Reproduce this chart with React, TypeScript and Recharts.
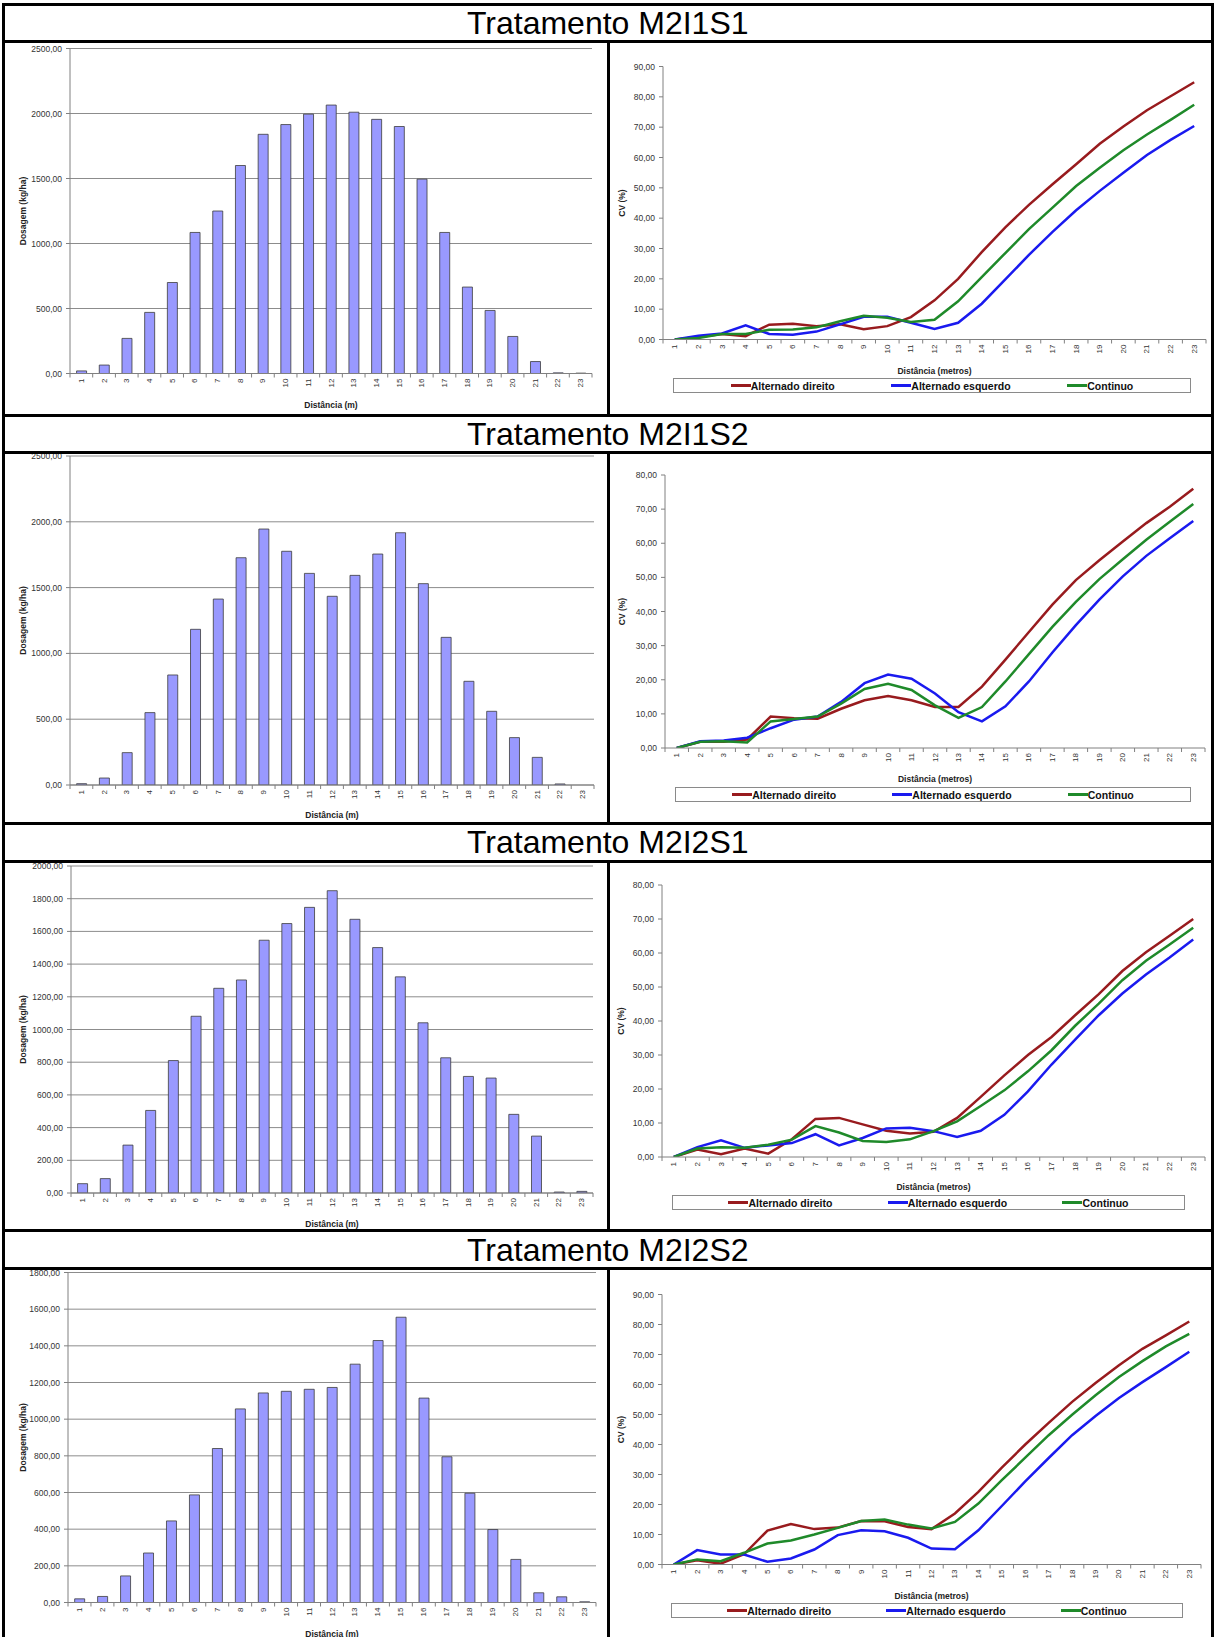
import React from 'react';
import { BarChart, Bar, LineChart, Line, XAxis, YAxis, CartesianGrid, Legend } from 'recharts';

// ---------------- data ----------------
const distances = ['1', '2', '3', '4', '5', '6', '7', '8', '9', '10', '11', '12', '13', '14', '15', '16', '17', '18', '19', '20', '21', '22', '23'];

const treatmentTitles = ['Tratamento M2I1S1', 'Tratamento M2I1S2', 'Tratamento M2I2S1', 'Tratamento M2I2S2'];

const seriesNames = ['Alternado direito', 'Alternado esquerdo', 'Continuo'];
const seriesColors = ['#981b1e', '#1a1aef', '#1f8a2a'];

// Dosagem (kg/ha)
const doseM2I1S1 = [20, 65, 270, 470, 700, 1085, 1250, 1600, 1840, 1915, 1995, 2065, 2010, 1955, 1900, 1495, 1085, 665, 485, 285, 92, 5, 3];
const doseM2I1S2 = [10, 53, 246, 550, 836, 1183, 1413, 1727, 1945, 1776, 1608, 1434, 1593, 1755, 1917, 1530, 1122, 788, 560, 360, 210, 8, 0];
const doseM2I2S1 = [57, 88, 293, 505, 810, 1081, 1252, 1303, 1546, 1648, 1747, 1849, 1674, 1501, 1322, 1041, 827, 713, 703, 481, 348, 6, 10];
const doseM2I2S2 = [20, 33, 145, 270, 445, 587, 840, 1056, 1143, 1152, 1163, 1173, 1300, 1429, 1556, 1115, 795, 596, 398, 235, 53, 31, 4];

// CV (%)
const cvDirM2I1S1 = [0, 0.8, 1.8, 1.1, 4.9, 5.2, 4.4, 5.0, 3.4, 4.4, 7.4, 12.9, 20.0, 28.8, 37.0, 44.4, 51.2, 57.8, 64.5, 70.2, 75.6, 80.2, 84.8];
const cvEsqM2I1S1 = [0, 1.2, 2.0, 4.7, 1.8, 1.6, 2.6, 5.0, 7.5, 7.5, 5.5, 3.5, 5.5, 11.8, 19.8, 27.9, 35.5, 42.6, 49.0, 55.0, 60.8, 65.8, 70.4];
const cvConM2I1S1 = [0, 0.5, 1.8, 1.8, 3.2, 3.3, 4.0, 6.0, 7.8, 7.2, 5.8, 6.5, 12.6, 20.6, 28.5, 36.4, 43.5, 50.6, 56.6, 62.4, 67.6, 72.4, 77.4];

const cvDirM2I1S2 = [0, 1.8, 1.8, 2.5, 9.2, 8.7, 8.6, 11.5, 14.0, 15.2, 14.0, 12.0, 12.0, 18.0, 25.9, 34.0, 42.0, 49.2, 55.0, 60.5, 65.9, 70.7, 76.0];
const cvEsqM2I1S2 = [0, 2.0, 2.2, 3.0, 5.8, 8.3, 9.2, 13.5, 19.0, 21.5, 20.3, 16.0, 10.5, 7.8, 12.2, 19.5, 28.0, 36.0, 43.5, 50.3, 56.3, 61.5, 66.5];
const cvConM2I1S2 = [0, 1.8, 2.0, 1.6, 7.8, 8.5, 9.2, 13.0, 17.3, 18.8, 17.0, 12.5, 8.8, 12.0, 19.5, 27.5, 35.5, 42.8, 49.5, 55.3, 61.0, 66.3, 71.5];

const cvDirM2I2S1 = [0, 2.2, 0.8, 2.5, 1.0, 5.2, 11.2, 11.5, 9.6, 7.7, 6.9, 7.4, 11.5, 17.7, 24.0, 30.0, 35.3, 41.7, 47.9, 54.7, 60.2, 65.1, 70.0];
const cvEsqM2I2S1 = [0, 2.9, 4.9, 2.7, 3.4, 4.1, 6.7, 3.4, 5.6, 8.4, 8.6, 7.6, 5.9, 7.7, 12.4, 19.3, 27.2, 34.5, 41.7, 48.1, 53.7, 58.7, 64.0];
const cvConM2I2S1 = [0, 2.5, 2.9, 2.7, 3.6, 5.1, 9.1, 7.2, 4.7, 4.4, 5.2, 7.6, 10.5, 15.0, 19.6, 25.2, 31.4, 38.6, 45.1, 52.0, 57.7, 62.5, 67.4];

const cvDirM2I2S2 = [0, 1.4, 0.3, 3.4, 11.3, 13.5, 11.8, 12.3, 14.5, 14.4, 12.5, 11.8, 17.0, 24.2, 32.3, 40.0, 47.2, 54.2, 60.5, 66.4, 71.9, 76.4, 81.0];
const cvEsqM2I2S2 = [0, 4.8, 3.3, 3.3, 0.9, 2.0, 5.0, 9.8, 11.4, 11.1, 8.9, 5.3, 5.1, 11.4, 19.5, 27.7, 35.5, 43.1, 49.5, 55.5, 60.8, 65.8, 70.9];
const cvConM2I2S2 = [0, 1.7, 1.1, 3.9, 7.0, 8.0, 10.0, 12.2, 14.5, 15.0, 13.3, 12.0, 14.2, 20.3, 28.1, 35.6, 43.1, 49.9, 56.4, 62.5, 67.8, 72.7, 76.9];

// tick values
const ticksDose2500 = [0, 500, 1000, 1500, 2000, 2500];
const ticksDose2000 = [0, 200, 400, 600, 800, 1000, 1200, 1400, 1600, 1800, 2000];
const ticksDose1800 = [0, 200, 400, 600, 800, 1000, 1200, 1400, 1600, 1800];
const ticksCv90 = [0, 10, 20, 30, 40, 50, 60, 70, 80, 90];
const ticksCv80 = [0, 10, 20, 30, 40, 50, 60, 70, 80];

// ---------------- layout / style ----------------
const FONT = '"Liberation Sans", Arial, Helvetica, sans-serif';
const PAGE_W = 1214;
const PAGE_H = 1637;
const DIVIDER_X = 608;
const BORDER_L = 3.5;
const BORDER_R = 1212;
const AXIS = '#808080';
const GRID = '#8c8c8c';
const TICK_TEXT = '#333333';

const rows = [
  {
    title: treatmentTitles[0], titleTop: 4.5, titleBottom: 41.5, bottom: 415,
    dose: doseM2I1S1, doseTicks: ticksDose2500,
    bar: { x1: 70, y1: 48, x2: 592, y2: 373, xTitleY: 404, yTitleX: 23 },
    dir: cvDirM2I1S1, esq: cvEsqM2I1S1, con: cvConM2I1S1, cvTicks: ticksCv90,
    line: { x1: 663, y1: 66, x2: 1206, y2: 339, xTitleY: 370, yTitleX: 622, lg: { x1: 673, y1: 378, x2: 1191, y2: 393 } },
  },
  {
    title: treatmentTitles[1], titleTop: 415, titleBottom: 452, bottom: 823,
    dose: doseM2I1S2, doseTicks: ticksDose2500,
    bar: { x1: 70, y1: 456, x2: 594, y2: 785, xTitleY: 815, yTitleX: 23 },
    dir: cvDirM2I1S2, esq: cvEsqM2I1S2, con: cvConM2I1S2, cvTicks: ticksCv80,
    line: { x1: 665, y1: 475, x2: 1205, y2: 748, xTitleY: 779, yTitleX: 622, lg: { x1: 675, y1: 787, x2: 1191, y2: 802 } },
  },
  {
    title: treatmentTitles[2], titleTop: 823, titleBottom: 861, bottom: 1230.5,
    dose: doseM2I2S1, doseTicks: ticksDose2000,
    bar: { x1: 71, y1: 866, x2: 593, y2: 1193, xTitleY: 1224, yTitleX: 23 },
    dir: cvDirM2I2S1, esq: cvEsqM2I2S1, con: cvConM2I2S1, cvTicks: ticksCv80,
    line: { x1: 662, y1: 885, x2: 1205, y2: 1157, xTitleY: 1187, yTitleX: 621, lg: { x1: 672, y1: 1195, x2: 1185, y2: 1210 } },
  },
  {
    title: treatmentTitles[3], titleTop: 1230.5, titleBottom: 1268.5, bottom: PAGE_H,
    dose: doseM2I2S2, doseTicks: ticksDose1800,
    bar: { x1: 68, y1: 1272, x2: 596, y2: 1602, xTitleY: 1633, yTitleX: 23 },
    dir: cvDirM2I2S2, esq: cvEsqM2I2S2, con: cvConM2I2S2, cvTicks: ticksCv90,
    line: { x1: 662, y1: 1294, x2: 1201, y2: 1564, xTitleY: 1595, yTitleX: 621, lg: { x1: 671, y1: 1603, x2: 1183, y2: 1618 } },
  },
];

const fmt = (v: number) => v.toFixed(2).replace('.', ',');

// Category tick: Excel-like tick marks between categories + rotated label
function CategoryTick(props: any) {
  const { x, y, payload, band, lastValue } = props;
  const ly = y + 5;
  const left = x - band / 2;
  const right = x + band / 2;
  return (
    <g>
      <line x1={left} x2={left} y1={y} y2={y + 4} stroke={AXIS} strokeWidth={1} />
      {payload.value === lastValue ? <line x1={right} x2={right} y1={y} y2={y + 4} stroke={AXIS} strokeWidth={1} /> : null}
      <text
        x={x}
        y={ly}
        transform={`rotate(-90 ${x} ${ly})`}
        textAnchor="end"
        dominantBaseline="central"
        fontSize={8}
        fill={TICK_TEXT}
      >
        {payload.value}
      </text>
    </g>
  );
}

function DoseChart({ row }: { row: any }) {
  const top = row.titleBottom;
  const H = row.bottom - top;
  const W = DIVIDER_X;
  const p = row.bar;
  const ticks: number[] = row.doseTicks;
  const max = ticks[ticks.length - 1];
  const data = distances.map((d, i) => ({ d, v: row.dose[i] }));
  const marginLeft = 6;
  const yw = p.x1 - marginLeft;
  const xh = H - (p.y2 - top);
  const band = (p.x2 - p.x1) / distances.length;
  const cy = (p.y1 + p.y2) / 2 - top;
  return (
    <div style={{ position: 'absolute', left: 0, top, width: W, height: H }}>
      <BarChart
        width={W}
        height={H}
        data={data}
        barCategoryGap="29%"
        margin={{ top: p.y1 - top, right: W - p.x2, bottom: 0, left: marginLeft }}
      >
        <CartesianGrid vertical={false} stroke={GRID} strokeWidth={1} />
        <XAxis
          dataKey="d"
          height={xh}
          interval={0}
          axisLine={{ stroke: AXIS }}
          tickLine={false}
          tickSize={0}
          tickMargin={0}
          tick={(tp: any) => <CategoryTick {...tp} band={band} lastValue={distances[distances.length - 1]} />}
          label={() => (
            <text x={(p.x1 + p.x2) / 2} y={p.xTitleY - top} textAnchor="middle" dominantBaseline="central" fontSize={8.5} fontWeight="bold" fill="#222">
              Distância (m)
            </text>
          )}
        />
        <YAxis
          width={yw}
          type="number"
          domain={[0, max]}
          ticks={ticks}
          interval={0}
          allowDataOverflow
          axisLine={{ stroke: AXIS }}
          tickLine={{ stroke: AXIS }}
          tickSize={4}
          tickMargin={4}
          tick={{ fontSize: 8.5, fill: TICK_TEXT }}
          tickFormatter={fmt}
          label={() => (
            <text x={p.yTitleX} y={cy} transform={`rotate(-90 ${p.yTitleX} ${cy})`} textAnchor="middle" dominantBaseline="central" fontSize={8.5} fontWeight="bold" fill="#222">
              Dosagem (kg/ha)
            </text>
          )}
        />
        <YAxis yAxisId="frame" orientation="right" width={0} type="number" domain={[0, 1]} tick={false} tickLine={false} axisLine={{ stroke: AXIS }} />
        <Bar dataKey="v" fill="#9999ff" stroke="#3c3c3c" strokeWidth={0.8} isAnimationActive={false} />
      </BarChart>
    </div>
  );
}

function LegendBox({ payload }: { payload?: any[] }) {
  const items = payload || [];
  return (
    <div
      style={{
        width: '100%',
        height: '100%',
        boxSizing: 'border-box',
        border: '1px solid #8a8a8a',
        background: '#ffffff',
        display: 'flex',
        justifyContent: 'space-evenly',
        alignItems: 'center',
        fontFamily: FONT,
      }}
    >
      {items.map((it: any) => (
        <div key={it.value} style={{ display: 'flex', alignItems: 'center' }}>
          <span style={{ display: 'inline-block', width: 20, height: 3, background: it.color }} />
          <span style={{ fontSize: 10.5, fontWeight: 'bold', color: '#111', lineHeight: '12px' }}>{it.value}</span>
        </div>
      ))}
    </div>
  );
}

function CvChart({ row }: { row: any }) {
  const top = row.titleBottom;
  const left = DIVIDER_X;
  const H = row.bottom - top;
  const W = PAGE_W - left;
  const p = row.line;
  const ticks: number[] = row.cvTicks;
  const max = ticks[ticks.length - 1];
  const data = distances.map((d, i) => ({ d, dir: row.dir[i], esq: row.esq[i], con: row.con[i] }));
  const marginLeft = 4;
  const yw = p.x1 - left - marginLeft;
  const xh = 40;
  const marginBottom = H - (p.y2 - top) - xh;
  const band = (p.x2 - p.x1) / distances.length;
  const cx = (p.x1 + p.x2) / 2 - left;
  const cy = (p.y1 + p.y2) / 2 - top;
  const tx = p.yTitleX - left;
  return (
    <div style={{ position: 'absolute', left, top, width: W, height: H }}>
      <LineChart
        width={W}
        height={H}
        data={data}
        margin={{ top: p.y1 - top, right: left + W - p.x2, bottom: marginBottom, left: marginLeft }}
      >
        <XAxis
          dataKey="d"
          scale="band"
          height={xh}
          interval={0}
          axisLine={{ stroke: AXIS }}
          tickLine={false}
          tickSize={0}
          tickMargin={0}
          tick={(tp: any) => <CategoryTick {...tp} band={band} lastValue={distances[distances.length - 1]} />}
          label={() => (
            <text x={cx} y={p.xTitleY - top} textAnchor="middle" dominantBaseline="central" fontSize={8.5} fontWeight="bold" fill="#222">
              Distância (metros)
            </text>
          )}
        />
        <YAxis
          width={yw}
          type="number"
          domain={[0, max]}
          ticks={ticks}
          interval={0}
          allowDataOverflow
          axisLine={{ stroke: AXIS }}
          tickLine={{ stroke: AXIS }}
          tickSize={4}
          tickMargin={4}
          tick={{ fontSize: 8.5, fill: TICK_TEXT }}
          tickFormatter={fmt}
          label={() => (
            <text x={tx} y={cy} transform={`rotate(-90 ${tx} ${cy})`} textAnchor="middle" dominantBaseline="central" fontSize={8.5} fontWeight="bold" fill="#222">
              CV (%)
            </text>
          )}
        />
        <Legend
          layout="horizontal"
          verticalAlign="middle"
          align="center"
          wrapperStyle={{ left: p.lg.x1 - left, top: p.lg.y1 - top, width: p.lg.x2 - p.lg.x1, height: p.lg.y2 - p.lg.y1, margin: 0, padding: 0 }}
          content={(lp: any) => <LegendBox payload={lp.payload} />}
        />
        <Line type="linear" dataKey="dir" name={seriesNames[0]} stroke={seriesColors[0]} strokeWidth={2.5} dot={false} activeDot={false} isAnimationActive={false} />
        <Line type="linear" dataKey="esq" name={seriesNames[1]} stroke={seriesColors[1]} strokeWidth={2.5} dot={false} activeDot={false} isAnimationActive={false} />
        <Line type="linear" dataKey="con" name={seriesNames[2]} stroke={seriesColors[2]} strokeWidth={2.5} dot={false} activeDot={false} isAnimationActive={false} />
      </LineChart>
    </div>
  );
}

function HLine({ y, x1, x2 }: { y: number; x1: number; x2: number }) {
  return <div style={{ position: 'absolute', left: x1 - 1.5, top: y - 1.5, width: x2 - x1 + 3, height: 3, background: '#000' }} />;
}
function VLine({ x, y1, y2 }: { x: number; y1: number; y2: number }) {
  return <div style={{ position: 'absolute', left: x - 1.5, top: y1 - 1.5, width: 3, height: y2 - y1 + 3, background: '#000' }} />;
}

export default function App() {
  return (
    <div style={{ position: 'absolute', left: 0, top: 0, width: PAGE_W, height: PAGE_H, background: '#fff', fontFamily: FONT, overflow: 'hidden' }}>
      {rows.map((r) => (
        <React.Fragment key={r.title}>
          <DoseChart row={r} />
          <CvChart row={r} />
          <div
            style={{
              position: 'absolute',
              left: BORDER_L,
              top: r.titleTop,
              width: BORDER_R - BORDER_L,
              height: r.titleBottom - r.titleTop,
              display: 'flex',
              alignItems: 'center',
              justifyContent: 'center',
              fontSize: 32,
              color: '#000',
              lineHeight: 1,
            }}
          >
            {r.title}
          </div>
          <HLine y={r.titleTop} x1={BORDER_L} x2={BORDER_R} />
          <HLine y={r.titleBottom} x1={BORDER_L} x2={BORDER_R} />
          <VLine x={BORDER_L} y1={r.titleTop} y2={r.bottom} />
          <VLine x={BORDER_R} y1={r.titleTop} y2={r.bottom} />
          <VLine x={DIVIDER_X} y1={r.titleBottom} y2={r.bottom} />
        </React.Fragment>
      ))}
    </div>
  );
}
